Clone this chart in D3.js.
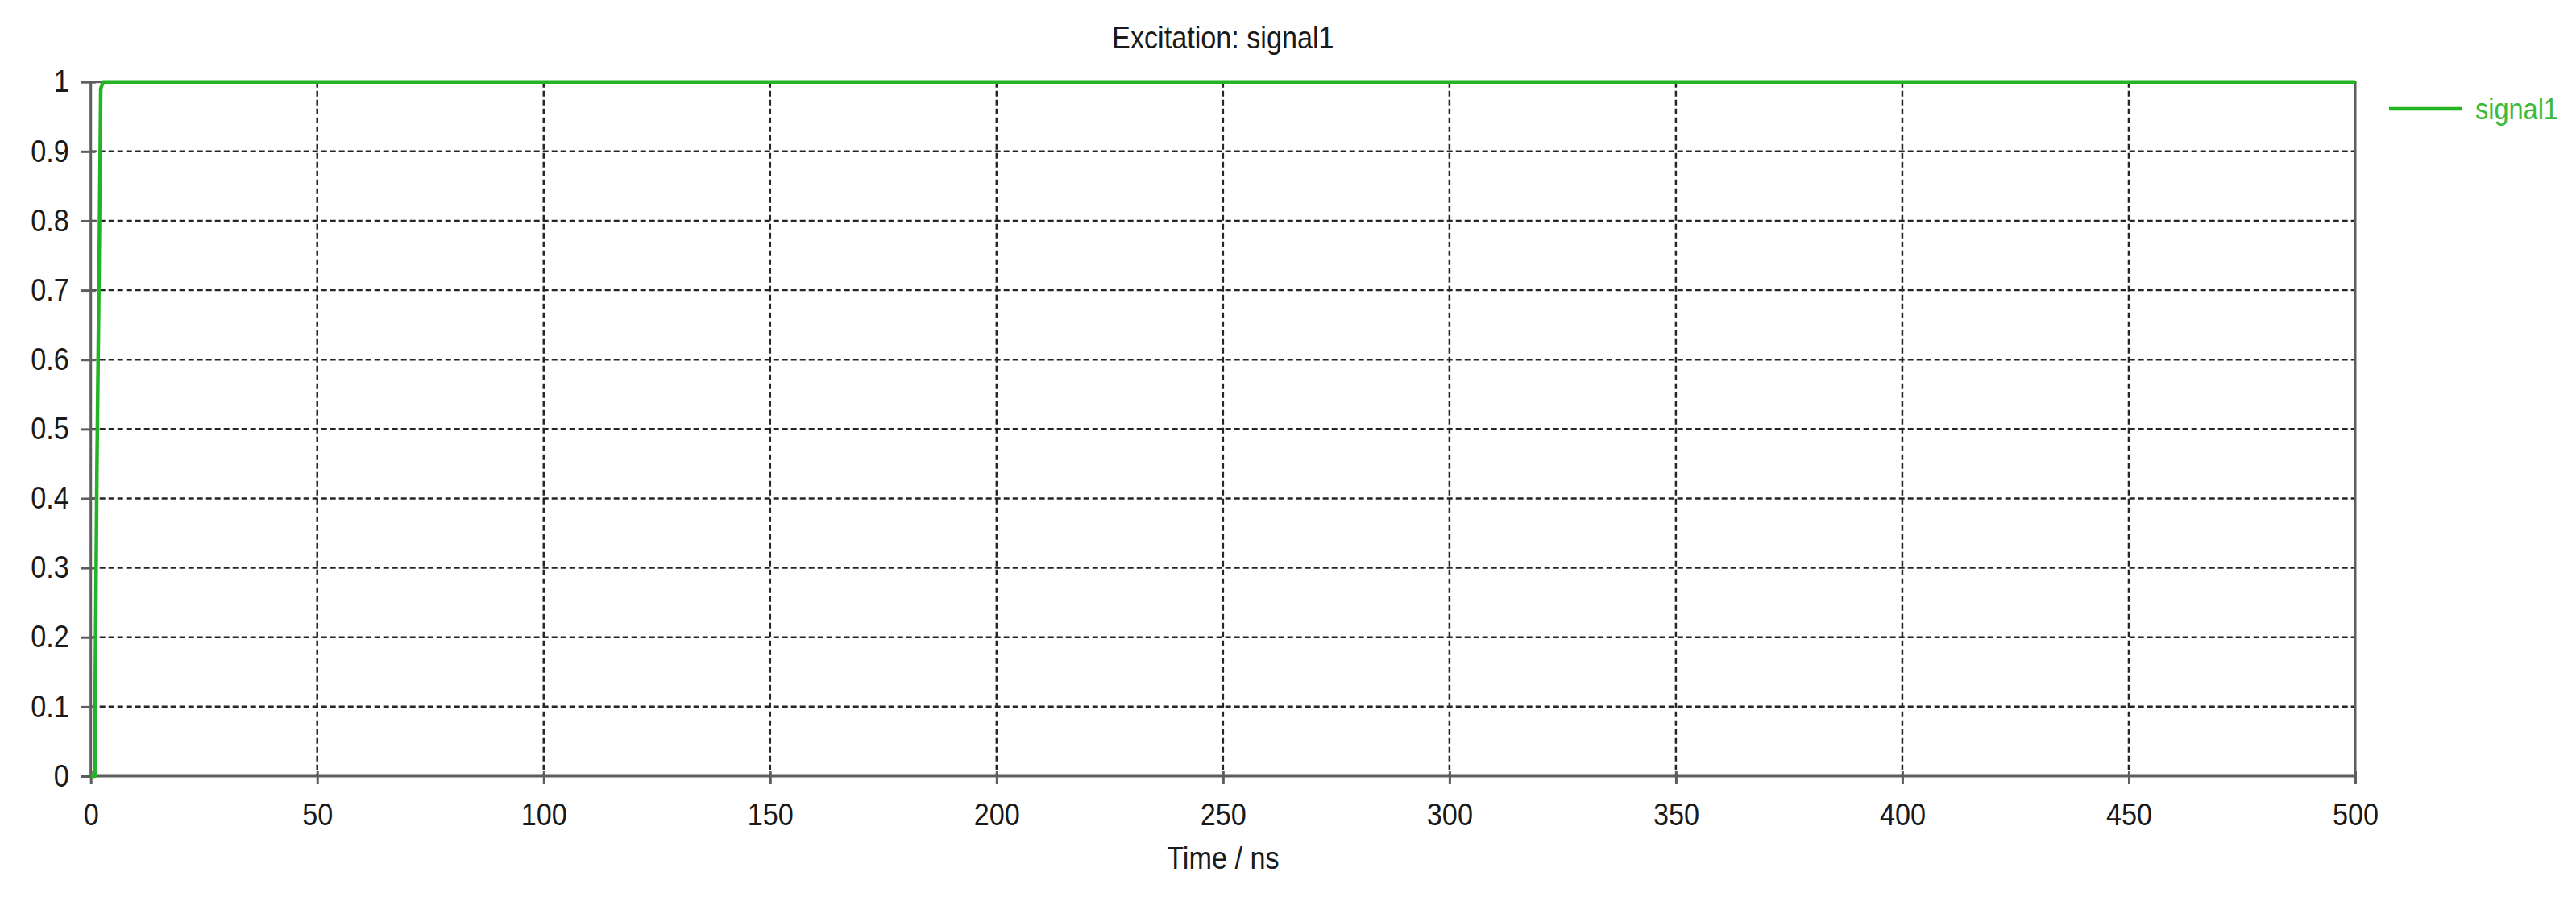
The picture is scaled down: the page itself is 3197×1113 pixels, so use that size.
<!DOCTYPE html>
<html>
<head>
<meta charset="utf-8">
<script src="https://cdn.jsdelivr.net/npm/d3@7"></script>
<style>
  html, body { margin: 0; padding: 0; background: #ffffff; }
  svg { display: block; }
  text { font-family: "Liberation Sans", Arial, sans-serif; }
</style>
</head>
<body>
<svg id="chart" width="3197" height="1113"></svg>
<script>
// ---- Data ----
const title = "Excitation: signal1";
const xLabel = "Time / ns";
const seriesName = "signal1";
const timeNs = [0, 0.9, 1.0, 1.35, 1.85, 2.2, 2.7, 500];
const signal1 = [0, 0, 0.143, 0.44, 0.74, 0.99, 1, 1];
const xTicks = [0, 50, 100, 150, 200, 250, 300, 350, 400, 450, 500];
const yTicks = [0, 0.1, 0.2, 0.3, 0.4, 0.5, 0.6, 0.7, 0.8, 0.9, 1];

// ---- Layout ----
const W = 3197, H = 1113;
const pLeft = 112.7, pRight = 2923, pTop = 101.7, pBottom = 963;
const FS = 38, SX = 0.9;
const green = "#22b422";
const axisColor = "#5e5e5e";

const svg = d3.select("#chart");
svg.append("rect").attr("width", W).attr("height", H).attr("fill", "#fff");

const x = d3.scaleLinear().domain([0, 500]).range([pLeft, pRight]);
const y = d3.scaleLinear().domain([0, 1]).range([pBottom, pTop]);

// grid
const grid = svg.append("g");
grid.selectAll("line.gx").data(xTicks.filter(d => d > 0 && d < 500)).join("line")
  .attr("class", "gx")
  .attr("x1", d => x(d)).attr("x2", d => x(d))
  .attr("y1", pTop).attr("y2", pBottom)
  .attr("stroke", "#262626").attr("stroke-width", 2.5).attr("stroke-dasharray", "7,4");
grid.selectAll("line.gy").data(yTicks.filter(d => d > 0 && d < 1)).join("line")
  .attr("class", "gy")
  .attr("y1", d => y(d)).attr("y2", d => y(d))
  .attr("x1", pLeft).attr("x2", pRight)
  .attr("stroke", "#262626").attr("stroke-width", 2.5).attr("stroke-dasharray", "7,4");

// frame
svg.append("rect").attr("x", pLeft).attr("y", pTop)
  .attr("width", pRight - pLeft).attr("height", pBottom - pTop)
  .attr("fill", "none").attr("stroke", axisColor).attr("stroke-width", 3);

// axes
const xAxis = d3.axisBottom(x).tickValues(xTicks).tickFormat(d3.format("d"))
  .tickSizeInner(10).tickSizeOuter(0).tickPadding(24);
const gx = svg.append("g").attr("transform", `translate(0,${pBottom})`).call(xAxis);
gx.select(".domain").remove();
gx.selectAll(".tick line").attr("stroke", axisColor).attr("stroke-width", 3).attr("y1", -6);
gx.selectAll(".tick text").attr("font-size", FS).attr("fill", "#1a1a1a")
  .attr("font-family", "Liberation Sans, Arial, sans-serif")
  .attr("transform", `scale(${SX},1)`);

const yAxis = d3.axisLeft(y).tickValues(yTicks).tickFormat(d => d3.format("~g")(d))
  .tickSizeInner(12).tickSizeOuter(0).tickPadding(18);
const gy = svg.append("g").attr("transform", `translate(${pLeft},0)`).call(yAxis);
gy.select(".domain").remove();
gy.selectAll(".tick line").attr("stroke", axisColor).attr("stroke-width", 3).attr("x1", 6);
gy.selectAll(".tick text").attr("font-size", FS).attr("fill", "#1a1a1a")
  .attr("font-family", "Liberation Sans, Arial, sans-serif")
  .attr("transform", `scale(${SX},1)`);

// series line
const data = timeNs.map((t, i) => [t, signal1[i]]);
svg.append("path").datum(data)
  .attr("fill", "none").attr("stroke", green).attr("stroke-width", 4.5)
  .attr("stroke-linejoin", "round")
  .attr("d", d3.line().x(d => x(d[0])).y(d => y(d[1])));

// title
svg.append("text").attr("transform", `translate(${(pLeft + pRight) / 2},60) scale(${SX},1)`)
  .attr("text-anchor", "middle").attr("font-size", FS).attr("fill", "#1a1a1a").text(title);

// x label
svg.append("text").attr("transform", `translate(${(pLeft + pRight) / 2},1078) scale(${SX},1)`)
  .attr("text-anchor", "middle").attr("font-size", FS).attr("fill", "#1a1a1a").text(xLabel);

// legend
svg.append("line").attr("x1", 2965).attr("x2", 3055).attr("y1", 135).attr("y2", 135)
  .attr("stroke", green).attr("stroke-width", 4.5);
svg.append("text").attr("transform", `translate(3072,148) scale(${SX},1)`)
  .attr("font-size", FS * 0.95).attr("fill", "#3cba3c").text(seriesName);
</script>
</body>
</html>
